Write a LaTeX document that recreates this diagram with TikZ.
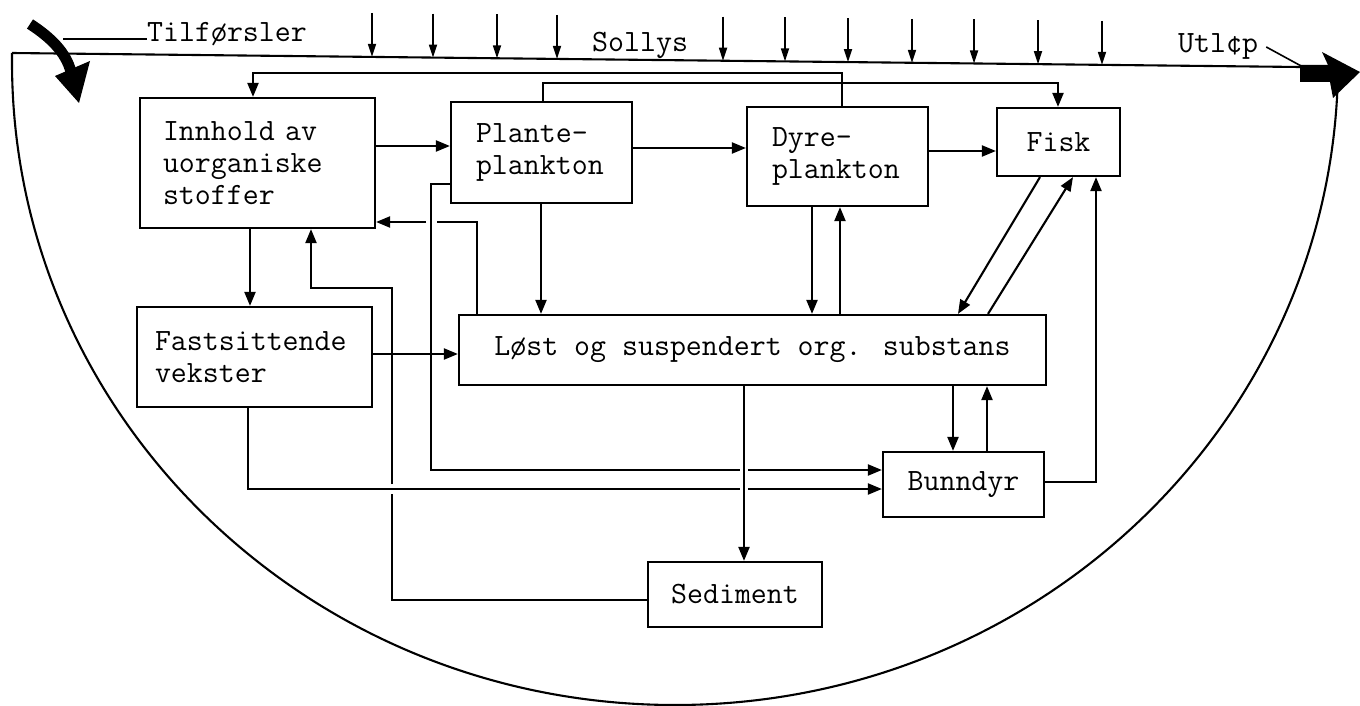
\documentclass[tikz,border=0pt]{standalone}
\usepackage{fontspec}
\usetikzlibrary{arrows.meta,calc}
\newcommand\tfont{\ttfamily\fontsize{31}{32}\selectfont}
\tikzset{
  box/.style={draw, line width=2.2pt, inner sep=0pt, font=\tfont},
  lbl/.style={inner sep=0pt, font=\tfont},
  ln/.style={line width=2.1pt},
  arr/.style={line width=2.1pt, -{Triangle[length=14pt,width=11pt]}},
  sun/.style={line width=1.7pt, -{Triangle[length=13pt,width=8pt]}},
}
\begin{document}
\begin{tikzpicture}[x=1pt,y=-1pt]
\useasboundingbox (0,0) rectangle (1360,706);
% boxes
\node[box, minimum width=235pt, minimum height=130pt, text width=189pt, inner xsep=23pt, align=left] (inn) at (257.5,163) {Innhold av\\uorganiske\\stoffer};
\node[box, minimum width=181pt, minimum height=101pt, text width=131pt, inner xsep=25pt, align=left] (pla) at (541.5,152.5) {Plante-\\plankton};
\node[box, minimum width=181pt, minimum height=99pt, text width=131pt, inner xsep=25pt, align=left] (dyr) at (837.5,156.5) {Dyre-\\plankton};
\node[box, minimum width=123pt, minimum height=68pt, align=center] (fis) at (1058.5,142) {Fisk};
\node[box, minimum width=235pt, minimum height=100pt, text width=199pt, inner xsep=18pt, align=left] (fas) at (254.5,357) {Fastsittende\\vekster};
\node[box, minimum width=587pt, minimum height=70pt, align=center] (los) at (752.5,350) {Løst og suspendert org. substans};
\node[box, minimum width=161pt, minimum height=65pt, align=center] (bun) at (963.5,484.5) {Bunndyr};
\node[box, minimum width=174pt, minimum height=65pt, align=center] (sed) at (735,594.5) {Sediment};
% labels
\node[lbl, anchor=base west] (tilf) at (147,42) {Tilførsler};
\node[lbl, anchor=base west] (soll) at (592,52) {Sollys};
\node[lbl, anchor=base west] (utl) at (1178,53) {Utl¢p};
% lake outline
\draw[ln] (12,53) -- (1300,67);
\draw[ln] (12,53) -- (12,62) arc[start angle=180, end angle=360, x radius=663pt, y radius=643pt];
% sunlight arrows
\foreach \sx in {372,433,497,557,723,785,848,912,974,1038,1102}{
  \draw[sun] (\sx,{53+0.0109*(\sx-12)-44}) -- (\sx,{53+0.0109*(\sx-12)});
}
% inflow arrow
\draw[line width=11pt] (30,24) .. controls (50,37) and (66,52) .. (71,72);
\fill (55,76) -- (90,61) -- (79,103) -- cycle;
\draw[line width=1.6pt] (63,39) -- (tilf.west |- 0,39);
% outflow arrow
\fill (1300,65) -- (1328,65) -- (1322,52) -- (1360,72) -- (1333,98) -- (1330,82) -- (1300,82) -- cycle;
\draw[line width=1.6pt] ($(utl.east)+(8,0)$) -- (1303,67);
% connectors
\draw[arr] (inn.east |- 0,146) -- (pla.west |- 0,146);
\draw[arr] (pla.east |- 0,148) -- (dyr.west |- 0,148);
\draw[arr] (dyr.east |- 0,151) -- (fis.west |- 0,151);
\draw[arr] (dyr.north -| 842,0) -- (842,73) -| (inn.north -| 253,0);
\draw[arr] (pla.north -| 543,0) |- (1058,83) -- (fis.north -| 1058,0);
\draw[arr] (inn.south -| 250,0) -- (fas.north -| 250,0);
\draw[arr] (pla.south -| 541,0) -- (los.north -| 541,0);
\draw[arr] (dyr.south -| 812,0) -- (los.north -| 812,0);
\draw[arr] (los.north -| 840,0) -- (dyr.south -| 840,0);
\draw[arr] (fis.south -| 1040,0) -- (los.north -| 958,0);
\draw[arr] (los.north -| 988,0) -- (fis.south -| 1073,0);
\draw[arr] (bun.east |- 0,482) -| (fis.south -| 1096,0);
\draw[arr] (los.south -| 953,0) -- (bun.north -| 953,0);
\draw[arr] (bun.north -| 987,0) -- (los.south -| 987,0);
\draw[arr] (los.south -| 744,0) -- (sed.north -| 744,0);
\draw[arr] (fas.east |- 0,354) -- (los.west |- 0,354);
% sediment -> inorganic (broken where it crosses)
\coordinate (pg1) at (392,494);
\coordinate (pg2) at (392,484);
\draw[ln] (sed.west |- 0,600) -| (pg1);
\draw[arr] (pg2) |- (311,288) -- (inn.south -| 311,0);
% organic -> inorganic
\coordinate (qg1) at (437,222);
\coordinate (qg2) at (426,222);
\draw[ln] (los.north -| 477,0) |- (qg1);
\draw[arr] (qg2) -- (inn.east |- 0,222);
% plankton -> bottom fauna
\coordinate (rg1) at (740,470);
\coordinate (rg2) at (748,470);
\draw[ln] (pla.west |- 0,184) -| (431,470) -- (rg1);
\draw[arr] (rg2) -- (bun.west |- 0,470);
% attached plants -> bottom fauna
\coordinate (sg1) at (740,489);
\coordinate (sg2) at (748,489);
\draw[ln] (fas.south -| 248,0) |- (sg1);
\draw[arr] (sg2) -- (bun.west |- 0,489);
\end{tikzpicture}
\end{document}
